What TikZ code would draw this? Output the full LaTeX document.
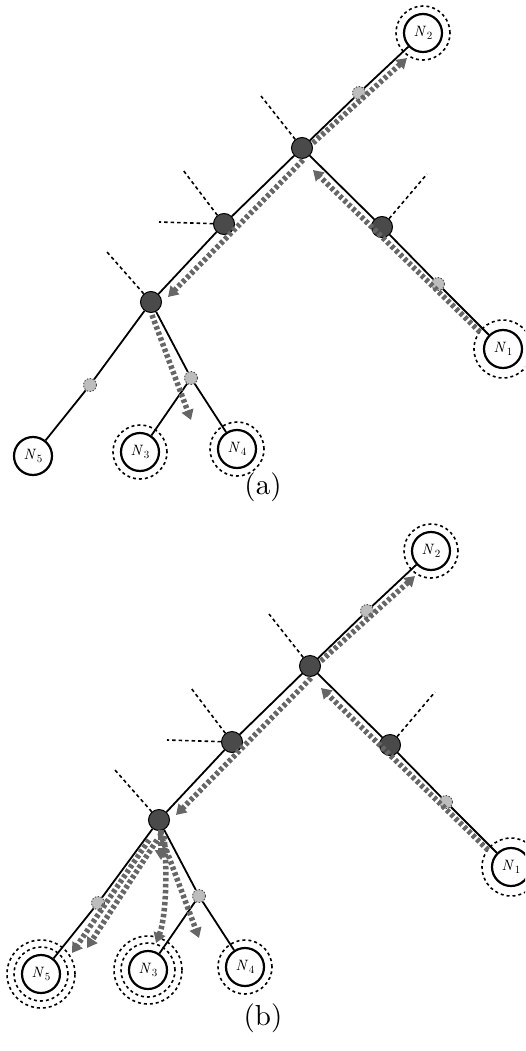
\documentclass[tikz,border=0pt]{standalone}
\usepackage{fontspec}
\newfontfamily\tenrm{lmroman10}[Extension=.otf,UprightFont=*-regular,ItalicFont=*-italic]
\usetikzlibrary{calc,arrows.meta}
\definecolor{flowgray}{HTML}{666666}
\definecolor{hubfill}{HTML}{4A4A4A}
\definecolor{relayfill}{HTML}{BDBDBD}
\newcommand\nlab[1]{\textit{N}\kern0.3pt\raisebox{-3pt}{\fontsize{11}{12}\selectfont #1}}
\tikzset{
  leaf/.style={circle,draw=black,line width=2.2pt,fill=white,minimum size=38pt,inner sep=0pt,font=\tenrm\fontsize{15}{17}\selectfont},
  hub/.style={circle,draw=black,line width=1pt,fill=hubfill,minimum size=21pt,inner sep=0pt},
  relay/.style={circle,draw=black!70,line width=0.9pt,dash pattern=on 1.5pt off 1.5pt,fill=relayfill,minimum size=13pt,inner sep=0pt},
  link/.style={line width=1.8pt,black},
  stub/.style={line width=1.6pt,black,dash pattern=on 3.5pt off 3pt},
  ring/.style={line width=1.6pt,black,dash pattern=on 3pt off 3pt},
  flow/.style={line width=5.5pt,flowgray,dash pattern=on 3.5pt off 2.5pt,-{Triangle[length=10pt,width=12pt]}},
  captext/.style={font=\tenrm\fontsize{29}{32}\selectfont}
}
\newcommand\mytree[2]{%
\begin{scope}[shift={#2}]
  \node[leaf] (#1N2) at (423,33) {\nlab{2}};
  \node[leaf] (#1N1) at (503,349) {\nlab{1}};
  \node[leaf] (#1N5) at (33,456) {\nlab{5}};
  \node[leaf] (#1N3) at (140,452) {\nlab{3}};
  \node[leaf] (#1N4) at (237,449) {\nlab{4}};
  \node[hub] (#1A) at (302,148) {};
  \node[hub] (#1B) at (224,224) {};
  \node[hub] (#1C) at (151,302) {};
  \node[hub] (#1D) at (382,227) {};
  \node[relay] (#1G1) at (359,93) {};
  \node[relay] (#1G2) at (438,284) {};
  \node[relay] (#1G3) at (90,385) {};
  \node[relay] (#1E) at (191,378) {};
  \coordinate (#1sA) at (261,96);
  \coordinate (#1sB1) at (183,170);
  \coordinate (#1sB2) at (159,222);
  \coordinate (#1sC) at (107,252);
  \coordinate (#1sD) at (427,174);
\end{scope}
  \draw[link] (#1A) -- (#1G1) -- (#1N2);
  \draw[link] (#1A) -- (#1D) -- (#1G2) -- (#1N1);
  \draw[link] (#1A) -- (#1B) -- (#1C);
  \draw[link] (#1C) -- (#1G3) -- (#1N5);
  \draw[link] (#1C) -- (#1E) -- (#1N4);
  \draw[link] (#1E) -- (#1N3);
  \draw[stub] (#1A) -- (#1sA);
  \draw[stub] (#1B) -- (#1sB1);
  \draw[stub] (#1B) -- (#1sB2);
  \draw[stub] (#1C) -- (#1sC);
  \draw[stub] (#1D) -- (#1sD);
  \draw[ring] (#1N2.center) circle[radius=27pt];
  \draw[ring] (#1N1.center) circle[radius=29pt];
  \draw[ring] (#1N4.center) circle[radius=27pt];
  \draw[flow] ($(#1A)+(11,-5)$) -- ($(#1A)+(105,-90)$);
  \draw[flow] ($(#1A)+(1,12)$) -- ($(#1C)+(17,-5)$);
  \draw[flow] ($(#1N1)+(-23,-17)$) -- ($(#1A)+(11,22)$);
  \draw[flow] ($(#1C)+(1,13)$) -- ($(#1C)+(40,118)$);
}
\begin{document}
\begin{tikzpicture}[x=1pt,y=-1pt]
  \useasboundingbox (0,0) rectangle (525,1051);
  \begin{scope}
    \clip (0,0) rectangle (525,1051);
    \mytree{a}{(0,0)}
    \draw[ring] (aN3.center) circle[radius=27pt];
    \mytree{b}{(8,518)}
    \draw[ring] (bN3.center) circle[radius=27pt];
    \draw[ring] (bN3.center) circle[radius=34pt];
    \draw[ring] (bN5.center) circle[radius=27pt];
    \draw[ring] (bN5.center) circle[radius=34pt];
    \draw[flow] ($(bC)+(2,10)$) -- ($(bC)+(2,40)$);
    \draw[flow] ($(bC)+(5,16)$) .. controls ($(bC)+(9,60)$) and ($(bC)+(6,100)$) .. ($(bC)+(-3,123)$);
    \draw[flow] ($(bC)+(-10,20)$) -- ($(bC)+(-87,133)$);
    \draw[flow] ($(bC)+(-2,20)$) -- ($(bC)+(-72,128)$);
  \end{scope}
  \node[captext] (capa) at (263,487) {(a)};
  \node[captext] (capb) at (263,1018) {(b)};
\end{tikzpicture}
\end{document}
